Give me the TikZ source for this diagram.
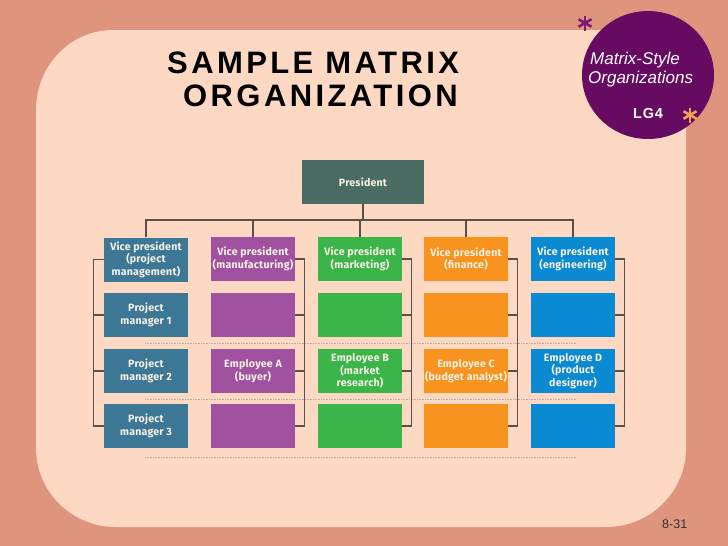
\documentclass[tikz,border=0pt]{standalone}
\usepackage{fontspec}
\setmainfont{Liberation Sans}
\newfontfamily\boxfont{Fira Sans}[LetterSpace=2]
\newfontfamily\titlefont{Liberation Sans}[LetterSpace=11]
\newfontfamily\lgfont{Liberation Sans}[LetterSpace=6]
\definecolor{bgsalmon}{HTML}{DF957D}
\definecolor{panel}{HTML}{FDD8C2}
\definecolor{circpurple}{HTML}{660A62}
\definecolor{astpurple}{HTML}{7A1C72}
\definecolor{astorange}{HTML}{F2A058}
\definecolor{prescol}{HTML}{4B6C62}
\definecolor{colA}{HTML}{3C7796}
\definecolor{colB}{HTML}{A0519F}
\definecolor{colC}{HTML}{3BB54A}
\definecolor{colD}{HTML}{F7931E}
\definecolor{colE}{HTML}{0A8AD2}
\definecolor{linecol}{HTML}{5A5048}
\definecolor{boxtext}{HTML}{F8F2E6}
\begin{document}
\begin{tikzpicture}[x=1pt,y=-1pt,
  orgbox/.style={minimum width=84pt,minimum height=44pt,inner sep=1pt,align=center,
    text=boxtext,font=\boxfont\bfseries\fontsize{10.6}{12.6}\selectfont},
  conn/.style={draw=linecol,line width=1.2pt},
  dotline/.style={draw=linecol!45,line width=0.6pt,densely dotted},
  astline/.style={line width=2.6pt}]
\useasboundingbox (0,0) rectangle (728,546);
\fill[bgsalmon] (0,0) rectangle (728,546);
% panel: rounded except top right
\fill[panel] (36,110) arc[start angle=180,end angle=90,x radius=77,y radius=-80] -- (686,30) -- (686,448)
  arc[start angle=0,end angle=-90,x radius=80,y radius=-79] -- (116,527)
  arc[start angle=270,end angle=180,x radius=80,y radius=-79] -- cycle;
% badge circle
\fill[circpurple] (648,75) ellipse[x radius=66,y radius=64];
\node[anchor=base west,text=white,font=\itshape\fontsize{17}{18}\selectfont,inner sep=0] (m1) at (590,64) {Matrix-Style};
\node[anchor=base west,text=white,font=\itshape\fontsize{17}{18}\selectfont,inner sep=0] (m2) at (588,83.5) {Organizations};
\node[anchor=base,text=white,font=\lgfont\bfseries\fontsize{14.5}{16}\selectfont,inner sep=0] (lg) at (648,118) {LG4};
% asterisks
\foreach \a in {90,30,150} {
  \draw[astline,astpurple] (585,23) -- ++(\a:7.5) (585,23) -- ++(\a+180:7.5);
  \draw[astline,astorange] (690,115) -- ++(\a:7.5) (690,115) -- ++(\a+180:7.5);
}
% title
\node[anchor=base west,inner sep=0,font=\titlefont\bfseries\fontsize{31}{34}\selectfont] (t1) at (167,73) {SAMPLE MATRIX};
\node[anchor=base west,inner sep=0,font=\titlefont\bfseries\fontsize{31}{34}\selectfont] (t2) at (183,106) {ORGANIZATION};
% page number
\node[anchor=base west,inner sep=0,text=black!80,font=\fontsize{12.5}{14}\selectfont] (pg) at (662,528) {8-31};
% dotted matrix lines (behind boxes)
\coordinate (d1l) at (145,343); \coordinate (d1r) at (576,343);
\coordinate (d2l) at (145,399); \coordinate (d2r) at (576,399);
\coordinate (d3l) at (145,457); \coordinate (d3r) at (576,457);
\draw[dotline] (d1l) -- (d1r);
\draw[dotline] (d2l) -- (d2r);
\draw[dotline] (d3l) -- (d3r);
% president
\node[orgbox,fill=prescol,minimum width=122pt] (pres) at (363,182) {President};
% rows
\node[orgbox,fill=colA] (c11) at (146,259.5) {Vice president\\(project\\management)};
\node[orgbox,fill=colA] (c12) at (146,315) {Project\\manager 1};
\node[orgbox,fill=colA] (c13) at (146,371) {Project\\manager 2};
\node[orgbox,fill=colA] (c14) at (146,426) {Project\\manager 3};
\node[orgbox,fill=colB] (c21) at (253,259) {Vice president\\(manufacturing)};
\node[orgbox,fill=colB] (c22) at (253,315) {};
\node[orgbox,fill=colB] (c23) at (253,371) {Employee A\\(buyer)};
\node[orgbox,fill=colB] (c24) at (253,426) {};
\node[orgbox,fill=colC] (c31) at (360,259) {Vice president\\(marketing)};
\node[orgbox,fill=colC] (c32) at (360,315) {};
\node[orgbox,fill=colC] (c33) at (360,371) {Employee B\\(market\\research)};
\node[orgbox,fill=colC] (c34) at (360,426) {};
\node[orgbox,fill=colD] (c41) at (466,259) {Vice president\\(finance)};
\node[orgbox,fill=colD] (c42) at (466,315) {};
\node[orgbox,fill=colD] (c43) at (466,371) {Employee C\\(budget analyst)};
\node[orgbox,fill=colD] (c44) at (466,426) {};
\node[orgbox,fill=colE] (c51) at (573,259) {Vice president\\(engineering)};
\node[orgbox,fill=colE] (c52) at (573,315) {};
\node[orgbox,fill=colE] (c53) at (573,371) {Employee D\\(product\\designer)};
\node[orgbox,fill=colE] (c54) at (573,426) {};
% hierarchy connectors
\coordinate (bus) at (363,220);
\draw[conn] (pres.south) -- (bus);
\draw[conn] (c11.north) |- (bus) -| (c51.north);
\foreach \c in {c21,c31,c41} \draw[conn] (\c.north) -- (\c.north |- bus);
% side connectors
\draw[conn] (c11.west) -| ([xshift=-10]c14.west) -- (c14.west);
\draw[conn] (c12.west) -- ++(-10,0);
\draw[conn] (c13.west) -- ++(-10,0);
\foreach \k in {2,3,4,5} {
  \draw[conn] (c\k1.east) -| ([xshift=9.5]c\k4.east) -- (c\k4.east);
  \draw[conn] (c\k2.east) -- ++(9.5,0);
  \draw[conn] (c\k3.east) -- ++(9.5,0);
}
\end{tikzpicture}
\end{document}
